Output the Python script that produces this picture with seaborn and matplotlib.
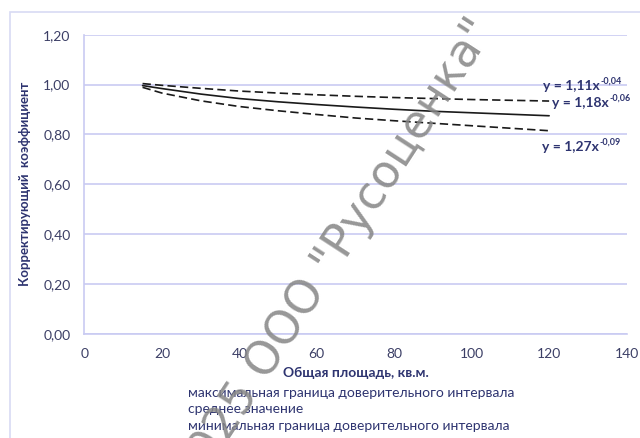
import matplotlib
matplotlib.use("Agg")
import matplotlib.pyplot as plt
import seaborn as sns
import pandas as pd
from matplotlib.patches import Rectangle

area = [15, 20, 30, 40, 50, 60, 70, 80, 90, 100, 110, 120]
upper = [1.004, 0.997, 0.985, 0.974, 0.966, 0.959, 0.953, 0.948, 0.944, 0.940, 0.937, 0.934]
mean = [0.996, 0.984, 0.962, 0.944, 0.931, 0.920, 0.910, 0.901, 0.893, 0.887, 0.881, 0.875]
lower = [0.989, 0.966, 0.935, 0.912, 0.895, 0.880, 0.866, 0.855, 0.845, 0.835, 0.825, 0.815]
series_names = ["максимальная граница доверительного интервала",
                "среднее значение",
                "минимальная граница доверительного интервала"]
equations = ["y = 1,11x", "y = 1,18x", "y = 1,27x"]
exponents = ["-0,04", "-0,06", "-0,09"]
x_ticks = [0, 20, 40, 60, 80, 100, 120, 140]
y_ticks = [0.0, 0.2, 0.4, 0.6, 0.8, 1.0, 1.2]

sns.set_theme(style="white")
plt.rcParams['font.family'] = ['Lato', 'DejaVu Sans']

navy = "#2e3470"
tickc = "#3c3f66"
grid = "#c9cbf2"

fig = plt.figure(figsize=(6.4, 4.38), dpi=100)
ax = fig.add_axes([0.132, 0.2374, 0.847, 0.6834])

df = pd.DataFrame({
    "x": area * 3,
    "y": upper + mean + lower,
    "s": [series_names[0]] * len(area) + [series_names[1]] * len(area) + [series_names[2]] * len(area),
})
dashes = {series_names[0]: (5, 2.5), series_names[1]: "", series_names[2]: (5, 2.5)}
sns.lineplot(data=df, x="x", y="y", style="s", dashes=dashes, color="#1a1a1a",
             linewidth=1.2, ax=ax, legend=True)

ax.set_xlim(0, 140)
ax.set_ylim(0, 1.2)
ax.set_xticks(x_ticks)
ax.set_yticks(y_ticks)
ax.set_xticklabels([str(t) for t in x_ticks], color=tickc, fontsize=10)
ax.set_yticklabels([f"{t:.2f}".replace(".", ",") for t in y_ticks], color=tickc, fontsize=10)
ax.yaxis.grid(True, color=grid, linewidth=1.2)
ax.xaxis.grid(False)
for side in ["top", "right"]:
    ax.spines[side].set_visible(False)
for side in ["left", "bottom"]:
    ax.spines[side].set_color(grid)
    ax.spines[side].set_linewidth(1.2)
ax.tick_params(axis="both", which="both", direction="out", length=4, color=grid, width=1.2, pad=6)
ax.set_xlabel("Общая площадь, кв.м.", fontsize=10, fontweight="bold", color=navy, labelpad=5)
ax.set_ylabel("Корректирующий  коэффициент", fontsize=9.5, fontweight="bold", color=navy, labelpad=9)

leg = ax.legend(loc="upper left", frameon=False, handlelength=0, handletextpad=0, fontsize=10,
                labelspacing=0.33, borderpad=0)
for h in leg.legend_handles:
    h.set_visible(False)
for t in leg.get_texts():
    t.set_color(navy)
leg.set_bbox_to_anchor((0.283, 0.133), transform=fig.transFigure)

eq_pos = [(543, 86), (552, 103), (542, 147)]
for (px, py), e, p in zip(eq_pos, equations, exponents):
    fx, fy = px / 640, 1 - py / 438
    t = fig.text(fx, fy, e, fontsize=10, fontweight="bold", color=navy, ha="left", va="center")
    fig.canvas.draw()
    bb = t.get_window_extent()
    fig.text(bb.x1 / fig.bbox.width + 0.001, fy + 0.012, p, fontsize=6.5, fontweight="bold",
             color=navy, ha="left", va="center")

fig.text(0.524, 0.420, '2025 ООО "Русоценка"', rotation=57, fontsize=33, color="#858585",
         alpha=0.85, ha="center", va="center", family=["DejaVu Sans"], zorder=10)

fig.patches.append(Rectangle((10 / 640, -0.01), 1.0, 1 - 12 / 438 + 0.01, transform=fig.transFigure,
                             fill=False, edgecolor="#d8daf4", linewidth=1.2))

fig.savefig("out.png", dpi=100)
